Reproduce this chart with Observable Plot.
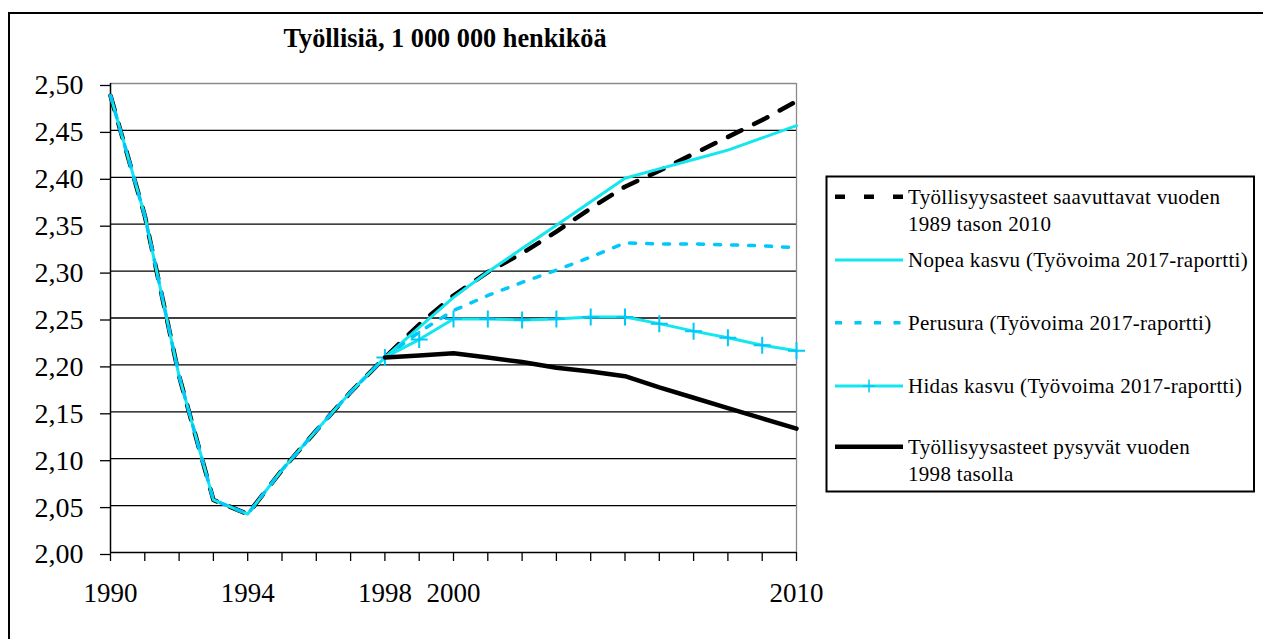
<!DOCTYPE html>
<html>
<head>
<meta charset="utf-8">
<script src="https://cdn.jsdelivr.net/npm/d3@7"></script>
<script src="https://cdn.jsdelivr.net/npm/@observablehq/plot@0.6"></script>
<style>
html, body { margin: 0; padding: 0; background: #fff; overflow: hidden; }
#wrap { position: relative; width: 1263px; height: 639px; overflow: hidden; background: #fff; }
#wrap > svg { position: absolute; left: 0; top: 0; }
</style>
</head>
<body>
<div id="wrap"></div>
<script>
// ---------------- data ----------------
const years = [1990, 1991, 1992, 1993, 1994, 1995, 1996, 1997, 1998, 1999, 2000,
               2001, 2002, 2003, 2004, 2005, 2006, 2007, 2008, 2009, 2010];
const xTickLabels = [1990, 1994, 1998, 2000, 2010];
const yTicks = [2.00, 2.05, 2.10, 2.15, 2.20, 2.25, 2.30, 2.35, 2.40, 2.45, 2.50];

const seriesNames = [
  "Työllisyysasteet saavuttavat vuoden 1989 tason 2010",
  "Nopea kasvu (Työvoima 2017-raportti)",
  "Perusura (Työvoima 2017-raportti)",
  "Hidas kasvu (Työvoima 2017-raportti)",
  "Työllisyysasteet pysyvät vuoden 1998 tasolla"
];

const taso1989 = [2.487, 2.359, 2.188, 2.056, 2.041, 2.088, 2.130, 2.171, 2.208, 2.243, 2.274,
                  2.299, 2.319, 2.342, 2.367, 2.390, 2.407, 2.425, 2.443, 2.461, 2.481];
const nopea    = [2.487, 2.359, 2.188, 2.056, 2.041, 2.088, 2.130, 2.171, 2.208, 2.240, 2.272,
                  2.299, 2.324, 2.349, 2.374, 2.399, 2.409, 2.419, 2.429, 2.442, 2.455];
const perusura = [2.487, 2.359, 2.188, 2.056, 2.041, 2.088, 2.130, 2.171, 2.208, 2.235, 2.258,
                  2.274, 2.288, 2.301, 2.315, 2.330, 2.329, 2.329, 2.328, 2.327, 2.325];
const hidas    = [null, null, null, null, null, null, null, null, 2.208, 2.227, 2.249,
                  2.249, 2.248, 2.249, 2.251, 2.251, 2.244, 2.236, 2.229, 2.221, 2.215];
const taso1998 = [null, null, null, null, null, null, null, null, 2.208, 2.210, 2.2125,
                  2.208, 2.203, 2.197, 2.193, 2.188, 2.176, 2.165, 2.154, 2.143, 2.132];

const rows = arr => years.map((x, i) => ({x, y: arr[i]})).filter(d => d.y != null);

// ---------------- styles ----------------
const FONT = "'Liberation Serif', 'Times New Roman', serif";
const CYAN = "#12e6ee";
const SKY = "#00c8f8";

const plusSymbol = {
  draw(ctx, size) {
    const r = Math.sqrt(size / Math.PI);
    ctx.moveTo(-r, 0); ctx.lineTo(r, 0);
    ctx.moveTo(0, -r); ctx.lineTo(0, r);
  }
};

const fmtY = d => d.toFixed(2).replace(".", ",");

const chart = Plot.plot({
  width: 1263,
  height: 639,
  marginLeft: 110,
  marginRight: 467,
  marginTop: 83,
  marginBottom: 87,
  x: {domain: [1990, 2010], label: null},
  y: {domain: [2.0, 2.5], label: null},
  style: {fontFamily: FONT, background: "transparent", color: "#000", overflow: "visible"},
  marks: [
    Plot.ruleY(yTicks.filter(t => t > 2.0 && t < 2.5), {stroke: "#000", strokeWidth: 1.3}),
    Plot.ruleY([2.5], {stroke: "#8a8a8a", strokeWidth: 1.3}),
    Plot.ruleX([2010], {stroke: "#8a8a8a", strokeWidth: 1.3}),
    Plot.axisY({ticks: yTicks, tickSize: 10, tickPadding: 17, tickFormat: fmtY, label: null,
                fontSize: 28, dy: 2, stroke: "#000", strokeWidth: 1.3}),
    Plot.axisX({ticks: years, tickSize: 9, tickPadding: 21, label: null,
                tickFormat: d => xTickLabels.includes(d) ? String(d) : "",
                fontSize: 27, stroke: "#000", strokeWidth: 1.3}),
    Plot.ruleX([1990], {stroke: "#000", strokeWidth: 1.5}),
    Plot.ruleY([2.0], {stroke: "#000", strokeWidth: 1.5}),
    Plot.line(rows(taso1989), {x: "x", y: "y", stroke: "#000", strokeWidth: 4.5,
               strokeDasharray: "15,14", strokeLinejoin: "round"}),
    Plot.line(rows(nopea), {x: "x", y: "y", stroke: CYAN, strokeWidth: 3, strokeLinejoin: "round"}),
    Plot.line(rows(perusura), {x: "x", y: "y", stroke: SKY, strokeWidth: 3.5,
               strokeDasharray: "6,11", strokeLinejoin: "round"}),
    Plot.line(rows(hidas), {x: "x", y: "y", stroke: CYAN, strokeWidth: 3, strokeLinejoin: "round"}),
    Plot.dot(rows(hidas), {x: "x", y: "y", symbol: plusSymbol, r: 8.5, fill: "none",
               stroke: SKY, strokeWidth: 2}),
    Plot.line(rows(taso1998), {x: "x", y: "y", stroke: "#000", strokeWidth: 4.5, strokeLinejoin: "round"})
  ]
});

const wrap = document.getElementById("wrap");
wrap.appendChild(chart);

// ---------------- frame, title, legend ----------------
const ov = d3.select(wrap).append("svg")
  .attr("width", 1263).attr("height", 639)
  .style("pointer-events", "none")
  .attr("font-family", FONT);

ov.append("rect").attr("x", 9).attr("y", 13).attr("width", 1400).attr("height", 800)
  .attr("fill", "none").attr("stroke", "#000").attr("stroke-width", 2);

ov.append("text").attr("x", 445).attr("y", 47).attr("text-anchor", "middle")
  .attr("font-size", 26.3).attr("font-weight", "bold").attr("fill", "#000")
  .text("Työllisiä, 1 000 000 henkiköä");

const lg = ov.append("g");
lg.append("rect").attr("x", 826.5).attr("y", 176.5).attr("width", 427.5).attr("height", 315)
  .attr("fill", "#fff").attr("stroke", "#000").attr("stroke-width", 2);

const entries = [
  {lines: ["Työllisyysasteet saavuttavat vuoden", "1989 tason 2010"], y: 196.7,
   stroke: "#000", width: 4.5, dash: "10,19"},
  {lines: [seriesNames[1]], y: 260, stroke: CYAN, width: 3, dash: null},
  {lines: [seriesNames[2]], y: 322.7, stroke: SKY, width: 3.5, dash: "7,12.5"},
  {lines: [seriesNames[3]], y: 386, stroke: CYAN, width: 3, dash: null, plus: true},
  {lines: ["Työllisyysasteet pysyvät vuoden", "1998 tasolla"], y: 446.7,
   stroke: "#000", width: 4.5, dash: null}
];

entries.forEach(e => {
  const l = lg.append("line").attr("x1", 835).attr("x2", 903).attr("y1", e.y).attr("y2", e.y)
    .attr("stroke", e.stroke).attr("stroke-width", e.width);
  if (e.dash) l.attr("stroke-dasharray", e.dash);
  if (e.plus) {
    lg.append("path").attr("d", `M${869 - 6},${e.y}H${869 + 6}M869,${e.y - 6.5}V${e.y + 6.5}`)
      .attr("stroke", SKY).attr("stroke-width", 1.5).attr("fill", "none");
  }
  e.lines.forEach((t, i) => {
    lg.append("text").attr("x", 908).attr("y", e.y + i * 27 + 7)
      .attr("font-size", 21).attr("letter-spacing", 0.3).attr("fill", "#000").text(t);
  });
});
</script>
</body>
</html>
